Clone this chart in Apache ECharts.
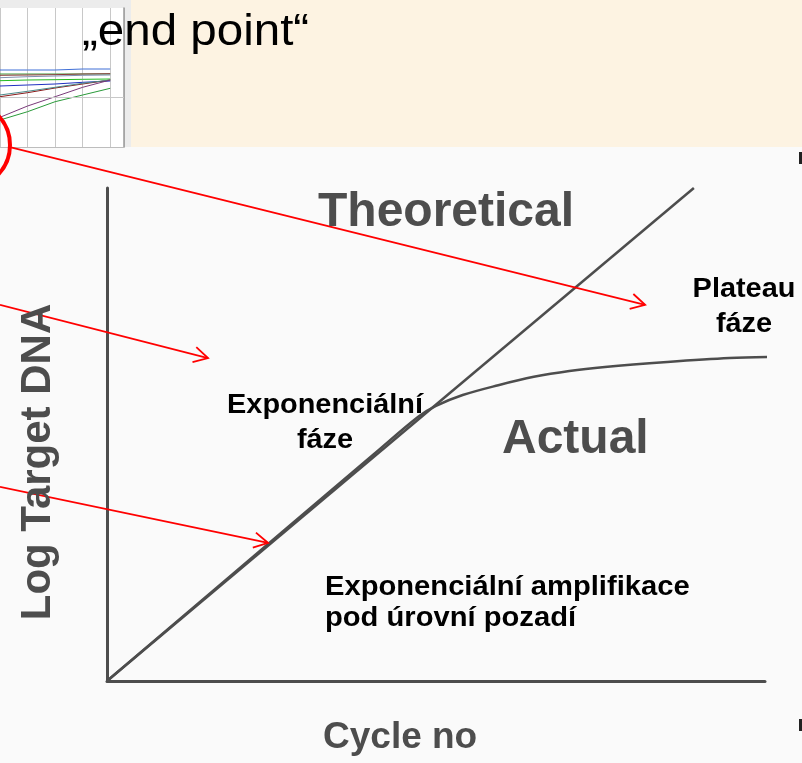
<!DOCTYPE html>
<html>
<head>
<meta charset="utf-8">
<script src="https://cdn.jsdelivr.net/npm/echarts@6/dist/echarts.min.js"></script>
<style>
  html, body { margin: 0; padding: 0; }
  #chart { width: 802px; height: 763px; }
</style>
</head>
<body>
<div id="chart"></div>
<script>
// main PCR curve (x = cycle, y = log target DNA)
const theoCycle = [0, 33];
const theoLog = [0, 10];
const actualCycle = [0, 10, 15, 17.5, 18.5, 20, 22, 24, 26, 28, 31.5, 35, 37.2];
const actualLog = [0, 3.07, 4.6, 5.36, 5.58, 5.8, 6.0, 6.17, 6.29, 6.37, 6.47, 6.55, 6.57];

// red arrows, from / to in the main chart's units
const arrowFrom = [[-5.46, 10.83], [-6.02, 7.63], [-6.02, 3.94]];
const arrowTo = [[30.26, 7.63], [5.68, 6.55], [9.06, 2.8]];

// little amplification plot cut off at top left
const snipCycle = [0, 1, 2, 3, 4];
const ampA = [0.77, 0.77, 0.77, 0.78, 0.78];
const ampB = [0.73, 0.73, 0.73, 0.73, 0.73];
const ampC = [0.717, 0.72, 0.723, 0.73, 0.733];
const ampD = [0.693, 0.703, 0.71, 0.717, 0.72];
const ampE = [0.663, 0.67, 0.673, 0.677, 0.68];
const ampF = [0.61, 0.62, 0.63, 0.647, 0.66];
const ampG = [0.503, 0.543, 0.59, 0.63, 0.67];
const ampH = [0.52, 0.557, 0.597, 0.637, 0.67];
const ampI = [0.297, 0.41, 0.503, 0.597, 0.67];
const ampJ = [0.27, 0.353, 0.453, 0.52, 0.587];
const snipThreshold = 0.5;

const ampSeries = [ampA, ampB, ampC, ampD, ampE, ampF, ampG, ampH, ampI, ampJ];
const ampColors = ['#3f6fd6', '#3c9a3c', '#8b3a3a', '#8090b0', '#22bb22',
                   '#2030c0', '#8b1a1a', '#4a8a8a', '#7a3a7a', '#2a9a3a'];

const FONT = '"Liberation Sans", Arial, sans-serif';
const GRAY = '#4d4d4d';

const zip = (xs, ys) => xs.map((x, i) => [x, ys[i]]);

var myChart = echarts.init(document.getElementById('chart'));

var series = [
  {
    name: 'Theoretical',
    type: 'line',
    xAxisIndex: 0, yAxisIndex: 0,
    data: zip(theoCycle, theoLog),
    showSymbol: false,
    lineStyle: { color: GRAY, width: 2.5 },
    z: 3
  },
  {
    name: 'Actual',
    type: 'line',
    xAxisIndex: 0, yAxisIndex: 0,
    data: zip(actualCycle, actualLog),
    smooth: 0.35,
    clip: false,
    showSymbol: false,
    lineStyle: { color: GRAY, width: 2.5 },
    z: 3
  },
  {
    name: 'arrows',
    type: 'custom',
    xAxisIndex: 0, yAxisIndex: 0,
    clip: false,
    z: 10,
    data: arrowFrom.map((p, i) => [p[0], p[1], arrowTo[i][0], arrowTo[i][1]]),
    renderItem: function (params, api) {
      var a = api.coord([api.value(0), api.value(1)]);
      var b = api.coord([api.value(2), api.value(3)]);
      var ang = Math.atan2(b[1] - a[1], b[0] - a[0]);
      var len = 16, spread = 0.5;
      var h1 = [b[0] - len * Math.cos(ang - spread), b[1] - len * Math.sin(ang - spread)];
      var h2 = [b[0] - len * Math.cos(ang + spread), b[1] - len * Math.sin(ang + spread)];
      return {
        type: 'group',
        children: [
          { type: 'line', shape: { x1: a[0], y1: a[1], x2: b[0], y2: b[1] },
            style: { stroke: '#ff0000', lineWidth: 1.8 } },
          { type: 'polyline', shape: { points: [h1, b, h2] },
            style: { stroke: '#ff0000', lineWidth: 1.8, fill: null } }
        ]
      };
    }
  }
];

ampSeries.forEach(function (vals, i) {
  series.push({
    type: 'line',
    xAxisIndex: 1, yAxisIndex: 1,
    data: zip(snipCycle, vals),
    showSymbol: false,
    lineStyle: { color: ampColors[i], width: 1 },
    markLine: i === 0 ? {
      silent: true,
      symbol: 'none',
      label: { show: false },
      lineStyle: { color: '#c8c8c8', width: 1, type: 'solid' },
      data: [{ yAxis: snipThreshold }]
    } : undefined
  });
});

var option = {
  animation: false,
  backgroundColor: '#fafafa',
  grid: [
    { left: 107, right: 37, top: 188, bottom: 82 },
    { left: -2, top: 8, width: 126, height: 139, show: true,
      backgroundColor: '#ffffff', borderWidth: 0 }
  ],
  xAxis: [
    {
      type: 'value', gridIndex: 0, min: 0, max: 37,
      axisLine: { show: true, lineStyle: { color: GRAY, width: 3 } },
      axisTick: { show: false }, axisLabel: { show: false }, splitLine: { show: false }
    },
    {
      type: 'value', gridIndex: 1, min: 0, max: 4.5, interval: 1, position: 'top',
      axisLine: { show: true, lineStyle: { color: '#bdbdbd', width: 1 } },
      axisTick: { show: false }, axisLabel: { show: false },
      splitLine: { show: true, lineStyle: { color: '#c8c8c8', width: 1 } }
    }
  ],
  yAxis: [
    {
      type: 'value', gridIndex: 0, min: 0, max: 10,
      axisLine: { show: true, lineStyle: { color: GRAY, width: 3 } },
      axisTick: { show: false }, axisLabel: { show: false }, splitLine: { show: false }
    },
    {
      type: 'value', gridIndex: 1, min: 0, max: 1.39, position: 'right',
      axisLine: { show: true, onZero: false, lineStyle: { color: '#9a9a9a', width: 1.5 } },
      axisTick: { show: false }, axisLabel: { show: false }, splitLine: { show: false }
    }
  ],
  graphic: [
    // slide background behind the cut-out
    { type: 'rect', z: -10, shape: { x: 0, y: 0, width: 131, height: 147 },
      style: { fill: '#ececec' } },
    { type: 'rect', z: -10, shape: { x: 131, y: 0, width: 671, height: 147 },
      style: { fill: '#fdf3e2' } },
    { type: 'rect', z: -10, shape: { x: 799, y: 152, width: 3, height: 12 },
      style: { fill: '#222' } },
    { type: 'rect', z: -10, shape: { x: 799, y: 719, width: 3, height: 12 },
      style: { fill: '#222' } },
    // red circle marking the start of the plateau
    { type: 'circle', z: 50, shape: { cx: -33, cy: 145, r: 43 },
      style: { stroke: '#ff0000', lineWidth: 4, fill: null } },
    // texts
    { type: 'text', z: 100, x: 82, y: 33, scaleX: 1.08,
      style: { text: '\u201Eend point\u201C', font: '44px ' + FONT, fill: '#000',
               align: 'left', verticalAlign: 'middle' } },
    { type: 'text', z: 100, x: 318, y: 213,
      style: { text: 'Theoretical', font: 'bold 48px ' + FONT, fill: GRAY,
               align: 'left', verticalAlign: 'middle' } },
    { type: 'text', z: 100, x: 502, y: 440,
      style: { text: 'Actual', font: 'bold 48px ' + FONT, fill: GRAY,
               align: 'left', verticalAlign: 'middle' } },
    { type: 'text', z: 100, x: 38, y: 462, rotation: Math.PI / 2,
      style: { text: 'Log Target DNA', font: 'bold 42px ' + FONT, fill: GRAY,
               align: 'center', verticalAlign: 'middle' } },
    { type: 'text', z: 100, x: 323, y: 738,
      style: { text: 'Cycle no', font: 'bold 37px ' + FONT, fill: GRAY,
               align: 'left', verticalAlign: 'middle' } },
    { type: 'text', z: 100, x: 325, y: 423, scaleX: 1.07,
      style: { text: 'Exponenciální\nfáze', font: 'bold 27px ' + FONT, fill: '#000',
               lineHeight: 35, align: 'center', verticalAlign: 'middle' } },
    { type: 'text', z: 100, x: 744, y: 307, scaleX: 1.07,
      style: { text: 'Plateau\nfáze', font: 'bold 27px ' + FONT, fill: '#000',
               lineHeight: 35, align: 'center', verticalAlign: 'middle' } },
    { type: 'text', z: 100, x: 325, y: 603, scaleX: 1.08,
      style: { text: 'Exponenciální amplifikace\npod úrovní pozadí', font: 'bold 27px ' + FONT,
               fill: '#000', lineHeight: 31, align: 'left', verticalAlign: 'middle' } }
  ],
  series: series
};

myChart.setOption(option);
</script>
</body>
</html>
